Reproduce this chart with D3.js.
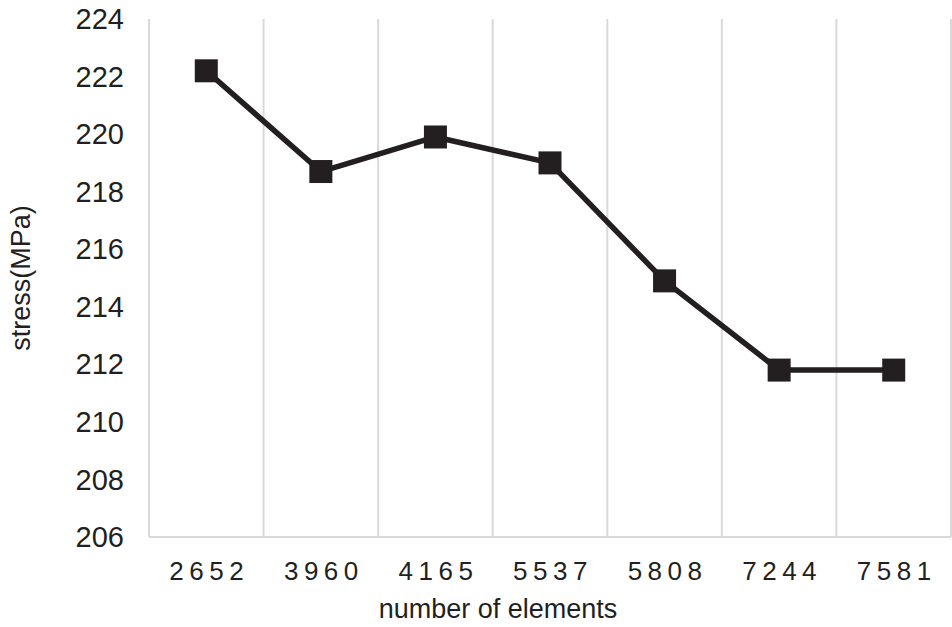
<!DOCTYPE html>
<html>
<head>
<meta charset="utf-8">
<script src="https://cdn.jsdelivr.net/npm/d3@7"></script>
<style>
    body { margin: 0; background: #fff; }
    text { font-family: "Liberation Sans", Arial, sans-serif; fill: #231f20; }
</style>
</head>
<body>
<div id="chart"></div>
<script>
// number of elements (categories) and max stress values
const elements = ['2652', '3960', '4165', '5537', '5808', '7244', '7581'];
const stress = [222.2, 218.7, 219.9, 219.0, 214.9, 211.8, 211.8];
const yTicks = [206, 208, 210, 212, 214, 216, 218, 220, 222, 224];

let width = 952,
    height = 627,
    margin = {top: 19, right: 1, bottom: 90, left: 149};

let svg = d3.select('#chart').append('svg')
    .attr('width', width)
    .attr('height', height);

let x = d3.scaleBand()
    .domain(elements)
    .range([margin.left, width - margin.right]);

let y = d3.scaleLinear()
    .domain([206, 224])
    .range([height - margin.bottom, margin.top]);

// vertical gridlines at category boundaries
let bounds = elements.map(d => x(d)).concat([x.range()[1]]);
svg.append('g')
    .selectAll('line')
    .data(bounds)
    .join('line')
    .attr('x1', d => d).attr('x2', d => d)
    .attr('y1', y(224)).attr('y2', y(206))
    .attr('stroke', '#d9d9d9')
    .attr('stroke-width', 2);

// bottom axis line
svg.append('line')
    .attr('x1', margin.left).attr('x2', width - margin.right)
    .attr('y1', y(206)).attr('y2', y(206))
    .attr('stroke', '#d9d9d9')
    .attr('stroke-width', 2);

// y tick labels
svg.append('g')
    .selectAll('text')
    .data(yTicks)
    .join('text')
    .attr('x', 124)
    .attr('y', d => y(d))
    .attr('dy', '0.35em')
    .attr('text-anchor', 'end')
    .style('font-size', '29px')
    .text(d => d);

// x tick labels
svg.append('g')
    .selectAll('text')
    .data(elements)
    .join('text')
    .attr('x', d => x(d) + x.bandwidth() / 2 + 3)
    .attr('y', 580)
    .attr('text-anchor', 'middle')
    .style('font-size', '26px')
    .style('letter-spacing', '5.5px')
    .text(d => d);

// axis titles
svg.append('text')
    .attr('x', 498)
    .attr('y', 618)
    .attr('text-anchor', 'middle')
    .style('font-size', '27px')
    .text('number of elements');

svg.append('text')
    .attr('transform', 'translate(30,' + ((y(206) + y(224)) / 2) + ') rotate(-90)')
    .attr('text-anchor', 'middle')
    .style('font-size', '27px')
    .text('stress(MPa)');

// line + square markers
let line = d3.line()
    .x((d, i) => x(elements[i]) + x.bandwidth() / 2)
    .y(d => y(d));

svg.append('path')
    .attr('d', line(stress))
    .attr('fill', 'none')
    .attr('stroke', '#231f20')
    .attr('stroke-width', 5.5)
    .attr('stroke-linejoin', 'round');

let size = 23;
svg.append('g')
    .selectAll('rect')
    .data(stress)
    .join('rect')
    .attr('x', (d, i) => x(elements[i]) + x.bandwidth() / 2 - size / 2)
    .attr('y', d => y(d) - size / 2)
    .attr('width', size)
    .attr('height', size)
    .attr('fill', '#231f20');
</script>
</body>
</html>
